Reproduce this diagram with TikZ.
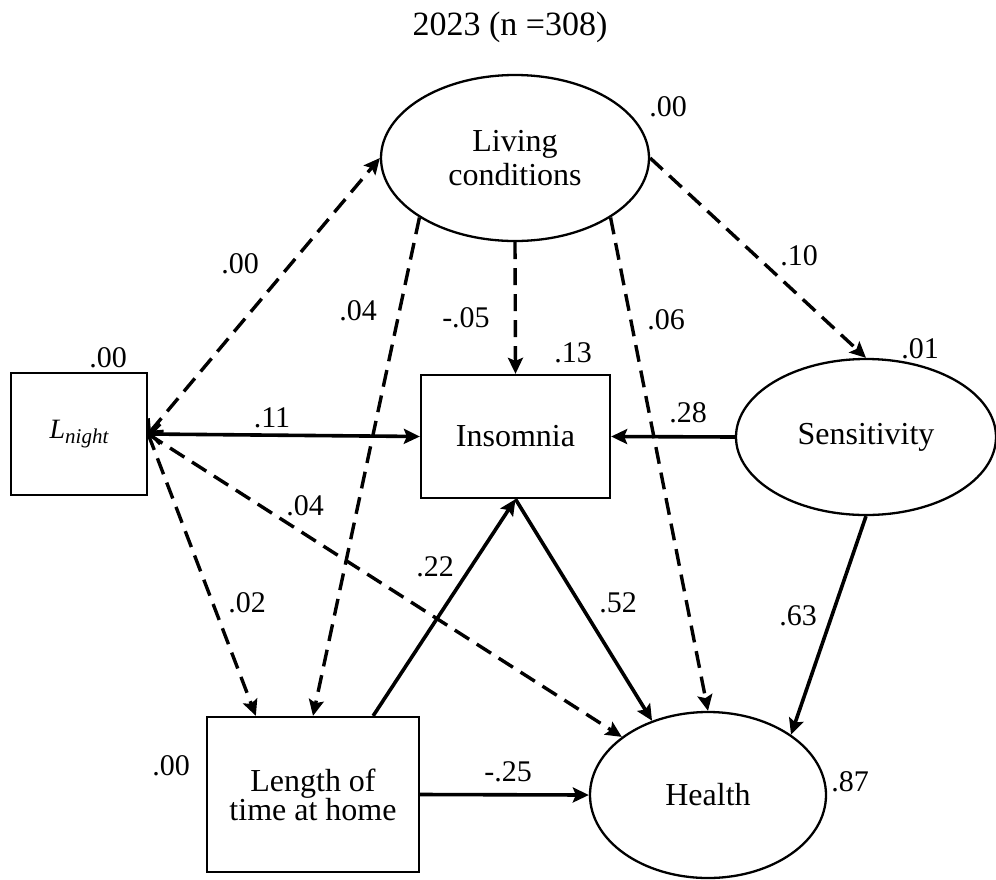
\documentclass[tikz,border=0pt]{standalone}
\usepackage{fontspec}
\setmainfont{Liberation Serif}
\usetikzlibrary{arrows.meta,shapes.geometric}
\begin{document}
\begin{tikzpicture}[x=1pt,y=-1pt,
  fhead/.tip={Stealth[length=16pt,width=15pt,inset=3pt]},
  bhead/.tip={Straight Barb[length=10pt,width=20pt,line width=3pt]},
  box/.style={draw, line width=2.3pt, rectangle, inner sep=0pt, align=center,
    font=\fontsize{32}{34}\selectfont},
  oval/.style={draw, line width=2.3pt, ellipse, inner sep=0pt, align=center,
    font=\fontsize{32}{34}\selectfont},
  coef/.style={inner sep=0pt, font=\fontsize{30}{32}\selectfont},
  solidarrow/.style={line width=3.6pt, -fhead},
  dasharrow/.style={line width=3.4pt, dash pattern=on 17pt off 9pt, -fhead},
]
\useasboundingbox (0,0) rectangle (996,879);

% title
\node[inner sep=0pt, font=\fontsize{34}{36}\selectfont] (title) at (510,27) {2023 (n =308)};

% variables
\node[box, minimum width=136pt, minimum height=122pt] (lnight) at (79,434)
  {{\fontsize{28}{30}\selectfont\itshape L\raisebox{-5pt}{\fontsize{21}{24}\selectfont night}}};
\node[oval, minimum width=268pt, minimum height=166pt] (liv) at (515,158) {Living\\conditions};
\node[box, minimum width=189pt, minimum height=123pt] (ins) at (515.5,436.5) {Insomnia};
\node[oval, minimum width=260pt, minimum height=156pt] (sens) at (866,437) {Sensitivity};
\node[box, minimum width=212pt, minimum height=155pt] (len) at (313,794.5)
  {Length of\\[-5pt]time at home};
\node[oval, minimum width=236pt, minimum height=166pt] (health) at (708,795) {Health};

% explained variances
\node[coef] (r1) at (108,358) {.00};
\node[coef] (r2) at (668,107) {.00};
\node[coef] (r3) at (573,353) {.13};
\node[coef] (r4) at (920,349) {.01};
\node[coef] (r5) at (850,782) {.87};
\node[coef] (r6) at (171,766) {.00};

% paths
\draw[dasharrow, bhead-fhead] (lnight.east) -- (liv.west);
\draw[solidarrow, bhead-fhead] (lnight.east) -- (ins.west);
\draw[dasharrow] (lnight.east) -- (health.146);
\draw[dasharrow] (lnight.east) -- ([xshift=50pt]len.north west);
\draw[dasharrow] (liv.south west) -- (len.north);
\draw[dasharrow] (liv.south) -- (ins.north);
\draw[dasharrow] (liv.south east) -- (health.north);
\draw[dasharrow] (liv.east) -- (sens.north);
\draw[solidarrow] (sens.west) -- (ins.east);
\draw[solidarrow] (sens.south) -- (health.36);
\draw[solidarrow] (ins.south) -- (health.127);
\draw[solidarrow] ([xshift=-47pt]len.north east) -- (ins.south);
\draw[solidarrow] (len.east) -- (health.west);

% path coefficients
\node[coef] (p1) at (240,264) {.00};
\node[coef] (p2) at (272,418) {.11};
\node[coef] (p3) at (358,311) {.04};
\node[coef] (p4) at (466,318) {-.05};
\node[coef] (p5) at (666,320) {.06};
\node[coef] (p6) at (799,256) {.10};
\node[coef] (p7) at (688,413) {.28};
\node[coef] (p8) at (305,506) {.04};
\node[coef] (p9) at (435,567) {.22};
\node[coef] (p10) at (247,603) {.02};
\node[coef] (p11) at (618,603) {.52};
\node[coef] (p12) at (798,616) {.63};
\node[coef] (p13) at (508,772) {-.25};
\end{tikzpicture}
\end{document}
